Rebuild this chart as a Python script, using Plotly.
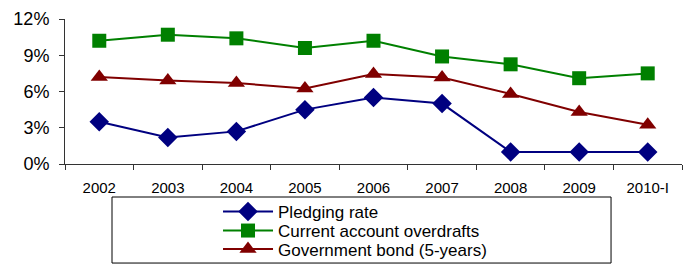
import plotly.graph_objects as go

years = ["2002", "2003", "2004", "2005", "2006", "2007", "2008", "2009", "2010-I"]
pledging = [3.5, 2.2, 2.7, 4.5, 5.5, 5.0, 1.0, 1.0, 1.0]
overdrafts = [10.2, 10.7, 10.4, 9.6, 10.2, 8.9, 8.25, 7.1, 7.5]
gov_bond = [7.2, 6.9, 6.7, 6.25, 7.45, 7.15, 5.8, 4.3, 3.25]
y_ticks = [0, 3, 6, 9, 12]
y_tick_text = ["0%", "3%", "6%", "9%", "12%"]

FONT = "Arial, Liberation Sans, sans-serif"

fig = go.Figure()
fig.add_trace(go.Scatter(x=years, y=pledging, name="Pledging rate", mode="lines+markers",
                         line=dict(color="#000080", width=2), legend="legend",
                         marker=dict(symbol="diamond", size=15, color="#000080")))
fig.add_trace(go.Scatter(x=years, y=overdrafts, name="Current account overdrafts", mode="lines+markers",
                         line=dict(color="#008000", width=2), legend="legend2",
                         marker=dict(symbol="square", size=14, color="#008000")))
fig.add_trace(go.Scatter(x=years, y=gov_bond, name="Government bond (5-years)", mode="lines+markers",
                         line=dict(color="#800000", width=2), legend="legend3",
                         marker=dict(symbol="triangle-up", size=15, color="#800000")))

leg_common = dict(x=0.248, xanchor="left", yanchor="middle",
                  font=dict(size=17, family=FONT, color="black"), bgcolor="rgba(0,0,0,0)",
                  borderwidth=0, itemwidth=50)

fig.update_layout(
    width=692, height=271,
    margin=dict(l=65, r=10, t=19, b=107, autoexpand=False),
    paper_bgcolor="white", plot_bgcolor="white",
    font=dict(family=FONT, color="black"),
    showlegend=True,
    legend=dict(y=-0.33, **leg_common),
    legend2=dict(y=-0.462, **leg_common),
    legend3=dict(y=-0.59, **leg_common),
    xaxis=dict(type="category", showgrid=False, showline=True, linecolor="#333333", linewidth=1,
               ticks="outside", ticklen=5, tickcolor="#333333", tickson="boundaries",
               tickfont=dict(size=15), ticklabelstandoff=10, range=[-0.5, 8.5]),
    yaxis=dict(range=[0, 12], tickvals=y_ticks, ticktext=y_tick_text, showgrid=False,
               showline=True, linecolor="#333333", linewidth=1, ticks="outside", ticklen=5,
               tickcolor="#333333", tickfont=dict(size=18), ticklabelstandoff=6, zeroline=False),
    shapes=[dict(type="rect", xref="paper", yref="paper", x0=0.0762, x1=0.885,
                 y0=-0.683, y1=-0.2276, line=dict(color="black", width=1))],
)

fig.write_html("out.html", config={"displayModeBar": False},
               post_script="document.body.style.margin='0';document.body.style.overflow='hidden';")
